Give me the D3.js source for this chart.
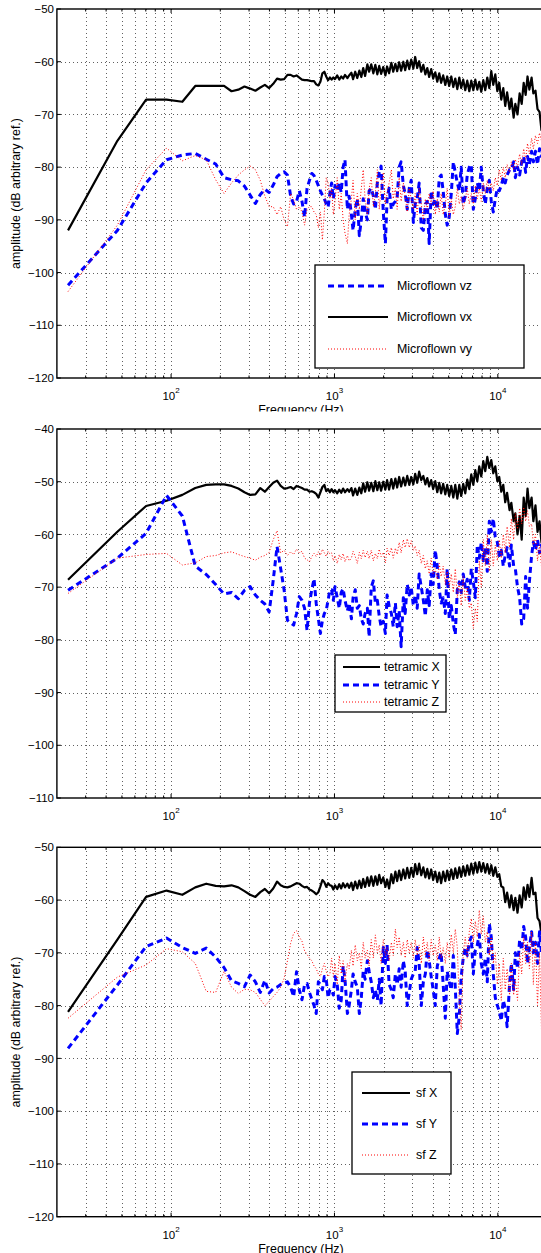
<!DOCTYPE html>
<html><head><meta charset="utf-8">
<script src="https://cdn.jsdelivr.net/npm/d3@7"></script>
<style>
html,body{margin:0;padding:0;background:#fff;}
svg{display:block;}
text{font-family:"Liberation Sans",Arial,Helvetica,sans-serif;fill:#000;}
</style></head><body>
<svg id="chart" width="541" height="1253"></svg>
<script>
// ---------- DATA ----------
const freqHz = [
23.4,46.9,70.3,93.8,117.2,140.6,164.1,187.5,210.9,234.4,
257.8,281.3,304.7,328.1,351.6,375,398.4,421.9,445.3,468.8,
492.2,515.6,539.1,562.5,585.9,609.4,632.8,656.3,679.7,703.1,
726.6,750,773.4,796.9,820.3,843.8,867.2,890.6,914.1,937.5,
960.9,984.4,1007.8,1040,1070,1100,1130,1160,1200,1230,
1270,1300,1340,1380,1420,1460,1500,1540,1590,1630,
1680,1730,1780,1830,1880,1930,1990,2050,2100,2160,
2230,2290,2360,2420,2490,2560,2640,2710,2790,2870,
2950,3040,3120,3210,3300,3400,3500,3600,3700,3800,
3910,4020,4140,4260,4380,4500,4630,4770,4900,5040,
5190,5340,5490,5650,5810,5970,6140,6320,6500,6690,
6880,7080,7280,7490,7700,7920,8150,8380,8620,8870,
9120,9380,9650,9930,10200,10500,10800,11100,11400,11800,
12100,12500,12800,13200,13600,14000,14400,14800,15200,15600,
16100,16500,17000,17500,18000,18500,19000,19600,20000];

// Panel 1 : Microflown
const microflownVz = [
-102.4,-92,-83,-78.6,-77.7,-77.4,-78.5,-79.4,-82,-82.4,
-82.6,-83.6,-85.3,-86.9,-85.2,-84.2,-84.8,-83.4,-81.8,-81.2,
-80.9,-81.5,-85.5,-87,-86.5,-84.5,-86.5,-89.5,-84,-82.5,
-81.2,-81.6,-82.5,-83.5,-84.5,-85.3,-86,-87,-87.6,-85,
-83,-86,-83.5,-84.5,-83,-84.8,-80,-78.6,-88,-85.5,
-89,-92,-88,-86,-93,-90,-86,-88.5,-90,-84.5,
-84,-85.5,-88,-83,-81,-79.8,-88.5,-94.5,-86,-84,
-88,-87,-86.5,-85.8,-80,-79,-83.5,-85,-88,-84,
-82.5,-90.5,-87,-86,-83,-91.5,-92,-87,-86.5,-94.5,
-84.5,-87,-86,-88,-82,-81.5,-84.5,-89,-91,-89.5,
-85,-79,-81,-83,-84.5,-80,-87,-85.5,-81.5,-80,
-79.5,-88,-86,-83,-84.5,-80,-84.5,-87,-84,-82.5,
-86.5,-88.5,-86,-84,-84.5,-83.5,-82,-83,-81.5,-80.5,
-80.5,-79,-82,-80,-81.5,-79,-78,-81,-78,-79.5,
-77,-79,-77,-79.5,-76.5,-78,-77,-78,-77];
const microflownVx = [
-92,-75,-67.2,-67.2,-67.6,-64.6,-64.6,-64.6,-64.6,-65.6,
-65.3,-64.7,-65.1,-65.5,-64.9,-64.4,-65,-64.2,-63.2,-63.4,
-63.3,-62.5,-62.5,-62.8,-62.6,-63,-63.4,-63.5,-63.5,-63.6,
-63.7,-63.7,-64.3,-64.5,-63.8,-62.2,-61.9,-62.8,-63.5,-63,
-63.4,-63,-63.3,-62.6,-63.4,-62.8,-63.2,-62.5,-63.1,-62.6,
-62.1,-63.3,-61.9,-63.1,-61.7,-62.9,-61.2,-62.7,-60.5,-61.9,
-60.5,-62.2,-60.6,-62.4,-60.8,-62.3,-61,-62.6,-60.9,-62.2,
-60.2,-61.9,-60.4,-61.8,-60.1,-61.7,-60,-61.6,-59.8,-61.4,
-59.6,-61.3,-59.1,-61.2,-59.9,-61.9,-60.6,-62.4,-61.2,-62.9,
-61.4,-63.2,-62,-63.8,-62.2,-64,-62.6,-64.4,-62.8,-64.6,
-62.8,-64.8,-63.2,-65.2,-63,-65,-63.4,-65.4,-63.6,-65.6,
-63.6,-65.4,-63.4,-65.3,-63.8,-65.7,-63.5,-65.4,-63,-65,
-61.8,-64.4,-62.4,-65.6,-64,-67.2,-65,-68.4,-65.8,-69,
-67,-70.6,-68,-70,-66,-68,-64,-66.3,-62.8,-65.3,
-63,-66,-65.5,-69,-69.5,-73,-72.5,-74.5,-73];
const microflownVy = [
-103.6,-91,-80.5,-76.4,-78.8,-77.8,-78.6,-82.4,-85,-83,
-81.5,-80.5,-79.8,-80.5,-82.5,-85.5,-87.5,-87.5,-89,-87.5,
-90,-91.3,-85,-86.2,-88,-87.5,-88.5,-91,-88,-87.5,
-87.5,-88.5,-89,-91.5,-88.5,-93.8,-88.5,-82,-83,-86,
-84,-89,-86.5,-82,-88,-85,-90,-92.5,-94.5,-89,
-86,-82.5,-90,-85,-88,-84,-80.5,-86,-89,-84,
-82,-87.5,-85,-80.5,-88,-84,-81,-87,-85,-83,
-80.5,-86,-84,-88,-82,-86.5,-83,-85.5,-88.5,-84,
-86,-88,-85,-89,-84,-87,-90,-86,-88,-85,
-87,-84.5,-89,-86,-88.5,-85,-89,-87,-84,-89.5,
-86,-89,-87.5,-84,-87,-85.5,-88,-86,-84,-87,
-85,-87,-83.5,-86,-84,-86.5,-83,-85,-82.5,-84.5,
-83,-84.5,-82,-83.5,-80.5,-82.5,-80,-82,-79.5,-81,
-79,-80.5,-78.5,-80,-77.5,-79.5,-76.5,-78.5,-75.5,-77.5,
-74.5,-76.5,-74,-75.5,-73.5,-75,-74,-75,-74];

// Panel 2 : tetramic
const tetramicX = [
-68.6,-59.5,-54.6,-53.6,-52.5,-51.2,-50.6,-50.5,-50.5,-50.8,
-51.3,-52,-52.5,-52.4,-51.2,-51.9,-51,-50.2,-49.8,-50.8,
-51.3,-51.2,-51,-51.4,-50.8,-51,-51.2,-51.5,-51.5,-51.9,
-51.8,-52,-52.3,-53,-52,-51,-50.6,-51.8,-51.4,-52,
-51.4,-52,-51.6,-52.2,-51.5,-52.1,-51.3,-52,-51.4,-51.9,
-51.2,-52.6,-51.3,-52.5,-51.1,-52.2,-50.3,-51.9,-50.1,-51.7,
-50.2,-51.8,-49.9,-51.6,-50.1,-51.7,-50,-51.5,-49.7,-51.5,
-49.5,-51.3,-49.4,-51.1,-49.1,-50.9,-49.2,-50.7,-48.9,-50.6,
-49.1,-50.5,-48.5,-50.2,-48.1,-49.7,-48.9,-50.5,-49.3,-50.9,
-49.7,-51.4,-49.9,-52,-50.2,-52.2,-50.4,-52.4,-50.6,-52.7,
-50.8,-53,-50.6,-53.2,-50.6,-52.7,-50.4,-52.2,-49.6,-51.4,
-48.6,-50.6,-47.8,-49.9,-47.1,-49,-46.1,-48,-45.3,-47.4,
-45.9,-48.4,-47.1,-49.9,-49.1,-51.9,-50.6,-53.9,-52.1,-55.4,
-54,-57.5,-56,-60,-56.5,-61,-53,-56.5,-51.3,-55,
-53,-57.5,-54.5,-59.5,-57.5,-61.5,-59.5,-61.5,-60];
const tetramicY = [
-70.6,-64.5,-59.8,-52.6,-56.5,-66,-67.6,-69.5,-71.3,-71,
-72.2,-70.6,-69.9,-71.5,-72.5,-73.2,-74.7,-68.7,-62.3,-66.5,
-70.6,-76.3,-76.8,-77.2,-75,-71.8,-72.5,-74,-78.2,-73,
-70.5,-68.4,-73.1,-76,-78.8,-76.3,-75,-74.4,-72.5,-70.5,
-70.5,-72.5,-69.9,-72,-74,-71,-70.3,-72.5,-74.5,-73,
-76,-72,-70.5,-74,-73.5,-76,-77,-75,-74,-79.4,
-70,-68.8,-73,-72.5,-75.5,-77.5,-76.5,-78.8,-71.5,-73.5,
-75,-77.5,-73,-77.5,-74.5,-81.3,-72,-75,-69.5,-71.5,
-70,-73.5,-71.5,-74,-67.5,-70,-72.5,-75.5,-70.5,-73.5,
-67.5,-69.5,-63,-66,-70.5,-73,-72,-75,-66.5,-76,
-73.5,-77,-79,-70.5,-69,-71,-67.5,-70,-68.5,-72.5,
-66.5,-69,-72,-62,-64.5,-61.5,-65,-62.5,-67,-57.5,
-59.5,-57,-60.5,-61.5,-64,-63,-66,-64,-62.5,-66,
-62,-66,-66.5,-70,-72,-77,-76,-68,-74,-69,
-64,-61.5,-63,-61,-63.5,-62,-64,-62,-63];
const tetramicZ = [
-71.2,-64.5,-63.8,-63.6,-65.8,-65.4,-64.2,-64,-63.5,-63.3,
-63.8,-64.2,-64.5,-64.9,-64.3,-64,-63.4,-61,-59.3,-63.5,
-63,-64,-63.3,-63.8,-62.8,-63.5,-63.2,-64.5,-64.8,-65.2,
-64.2,-63.6,-64.2,-63.3,-64,-62.8,-63.5,-64.2,-63.2,-63.7,
-63.5,-65,-64,-65.5,-63.8,-64.8,-63.6,-65.2,-64,-65,
-64.5,-63.2,-64.2,-65.5,-63.4,-64.6,-63,-64.4,-63.2,-64.6,
-63,-65,-63.6,-64.6,-62.8,-64.2,-63.4,-65.4,-62.6,-64,
-62.5,-64.5,-62.6,-63.8,-61.5,-63.5,-61,-62.5,-60.8,-62.5,
-61.2,-63,-62.2,-64,-63,-65.5,-64,-66.5,-65,-67.5,
-64.5,-67.5,-66.5,-68.5,-65.5,-68,-66,-69.5,-67,-70,
-67.5,-71,-66.5,-72,-69,-73.5,-68,-72.5,-70,-74,
-73,-77.8,-74,-76.5,-65,-70,-61,-66,-60,-67,
-61,-66,-62,-65,-61,-64.5,-60,-63.5,-58.5,-62.5,
-57,-61,-56,-59,-55,-58,-54.8,-57.5,-55.5,-58.5,
-58,-62,-60,-65,-62,-66,-63,-65,-64];

// Panel 3 : sf
const sfX = [
-81.2,-67.5,-59.4,-58.2,-59,-57.6,-56.9,-57.3,-57.4,-57.2,
-57.6,-58.3,-59,-59.4,-58.5,-57.9,-58.7,-57.8,-56.5,-57.2,
-57.5,-57.6,-57.4,-57.1,-56.8,-56.9,-57.3,-57.6,-57.5,-58,
-58.2,-58.5,-58.9,-58.5,-57.4,-56.2,-56.6,-57.5,-56.8,-57.2,
-57.3,-58,-57.2,-57.9,-57,-57.8,-56.8,-57.6,-56.9,-57.7,
-56.7,-58.1,-56.5,-57.8,-56.3,-57.7,-56,-57.5,-55.7,-57.3,
-55.5,-57.3,-55.5,-57.1,-55.2,-56.8,-55.7,-57.5,-56.1,-57.8,
-55.1,-56.8,-54.6,-56.4,-54.4,-56.2,-54.2,-55.9,-53.9,-55.8,
-53.9,-55.6,-53.2,-55.1,-53.1,-55.3,-53.8,-55.7,-54.1,-55.9,
-54.2,-56.2,-54.6,-56.6,-54.8,-56.8,-54.6,-56.4,-54.4,-56.2,
-54.2,-56,-54,-55.8,-53.8,-55.6,-53.6,-55.4,-53.4,-55.2,
-53.1,-55,-52.9,-54.8,-52.8,-54.6,-53,-54.8,-53.2,-55,
-53.4,-55.4,-53.8,-55.6,-55.1,-57.4,-57.6,-60.4,-58.6,-61.4,
-59.1,-61.9,-59.6,-62.4,-59.1,-61.4,-57.6,-59.9,-57.1,-59.4,
-55.8,-58.9,-58.6,-63.4,-64,-66.5,-65,-66,-65];
const sfY = [
-88.1,-76.1,-68.8,-67.2,-69,-70.1,-69.1,-70.8,-72.8,-75.3,
-75.8,-76.4,-74.2,-75.5,-77.5,-75.2,-77.6,-76.8,-76.5,-76,
-75.8,-75.5,-76.5,-78.3,-73.6,-77,-78.9,-76,-75.8,-77.5,
-78.8,-80,-81.5,-75.5,-76,-77,-74.5,-75,-78.5,-77,
-77,-78,-74.5,-76,-80.5,-79,-72.5,-75,-81.5,-80,
-77,-74,-75.5,-76.5,-81.5,-78.5,-73.5,-75,-71.5,-73.5,
-75.5,-78.5,-77,-79,-75,-80,-69,-72,-68.5,-76,
-77,-78.5,-74,-76,-73,-76.5,-71.5,-73.5,-80,-77.5,
-75,-74,-73.5,-69,-72,-80,-75.5,-74,-69.5,-71.5,
-74.5,-77,-80,-72.5,-71,-70,-76,-82.4,-73.5,-75.5,
-77,-70.5,-76.5,-85.3,-82,-74.5,-71,-69,-70.5,-68,
-67,-74,-69.5,-68.5,-66.5,-72,-74,-71,-75.5,-64.5,
-67,-74,-78.5,-80,-81,-82.9,-79,-80.5,-84,-76,
-72,-77,-70,-73,-67.5,-69.5,-65,-67,-72,-69,
-66,-70,-68,-72,-66,-70,-68,-71,-69];
const sfZ = [
-82.4,-74.6,-72.3,-69.2,-69.8,-72,-77.3,-77.5,-73.5,-76.5,
-77.7,-76.9,-77,-77.5,-78.8,-80,-79.2,-78.3,-77.5,-76.5,
-74.8,-71.5,-68.2,-66.3,-65.8,-67,-67.8,-69.6,-70.3,-71,
-71.5,-72.5,-73,-74,-74.5,-73,-72,-73.5,-74.5,-74,
-71,-74.5,-72,-76,-70.5,-74,-71.5,-75.5,-72,-73,
-69.5,-72.5,-68.5,-71.5,-70,-73,-68,-71,-69.5,-72.5,
-67.5,-71,-66.6,-70,-68.5,-72,-67.5,-70.5,-69,-71.5,
-68,-70.5,-65.5,-69,-67,-70.5,-68,-71,-67.5,-70,
-68,-71,-67.5,-70.5,-68.5,-72,-67,-70.5,-68,-71.5,
-67.5,-70.5,-68.5,-71.5,-67,-71,-69,-72,-68,-71,
-66.5,-70,-65.5,-69,-79.5,-84.5,-70,-67,-71,-66,
-63.5,-68,-64,-67,-61.9,-66.5,-63,-68,-66,-70.5,
-67,-72,-70,-76,-72,-79,-71,-77,-73,-78,
-72,-78,-75,-79,-70,-74,-67,-72,-68,-73,
-66,-76,-68,-80,-70,-84.5,-72,-80,-75];

const yTicksA = [-120,-110,-100,-90,-80,-70,-60,-50];
const yTicksB = [-110,-100,-90,-80,-70,-60,-50,-40];
const xTickDecades = [100, 1000, 10000];
const xTickExponents = ["2", "3", "4"];
const yLabelText = "amplitude (dB arbitrary ref.)";
const xLabelText = "Frequency (Hz)";

// ---------- STYLES / LAYOUT ----------
const styles = {
  black: {stroke: "#000000", width: 2.2, dash: null},
  blue:  {stroke: "#0000ff", width: 3, dash: "6,4"},
  red:   {stroke: "#ff0000", width: 1, dash: "1,2"}
};

const panels = [
  {top: 9, bottom: 378, yDomain: [-120, -50], yTicks: yTicksA, ylabel: true, xlabelClip: 411.5,
   series: [
     {name: "Microflown vz", values: microflownVz, style: "blue"},
     {name: "Microflown vx", values: microflownVx, style: "black"},
     {name: "Microflown vy", values: microflownVy, style: "red"}],
   legend: {x: 315, y: 265, w: 209, h: 103, rows: [286, 317, 349], lx1: 328, lx2: 388, tx: 397}},
  {top: 429, bottom: 798, yDomain: [-110, -40], yTicks: yTicksB, ylabel: false, xlabelClip: null,
   series: [
     {name: "tetramic X", values: tetramicX, style: "black"},
     {name: "tetramic Y", values: tetramicY, style: "blue"},
     {name: "tetramic Z", values: tetramicZ, style: "red"}],
   legend: {x: 335, y: 655, w: 111, h: 57, rows: [667, 685, 702], lx1: 343, lx2: 380, tx: 384}},
  {top: 847.3, bottom: 1216.7, yDomain: [-120, -50], yTicks: yTicksA, ylabel: true, xlabelClip: 1253,
   series: [
     {name: "sf X", values: sfX, style: "black"},
     {name: "sf Y", values: sfY, style: "blue"},
     {name: "sf Z", values: sfZ, style: "red"}],
   legend: {x: 352, y: 1072, w: 99, h: 102, rows: [1093, 1124, 1155], lx1: 362, lx2: 410, tx: 416}}
];

const svg = d3.select("#chart");
const X0 = 56.9, X1 = 547;
const x = d3.scaleLog().domain([20, 20000]).range([X0, X1]);
const gridFreqs = x.ticks().filter(f => f > 20 && f < 20000);

panels.forEach((p, pi) => {
  const y = d3.scaleLinear().domain(p.yDomain).range([p.bottom, p.top]);
  const g = svg.append("g");
  const clipId = "clip" + pi;
  svg.append("clipPath").attr("id", clipId)
    .append("rect").attr("x", X0).attr("y", p.top).attr("width", X1 - X0).attr("height", p.bottom - p.top);

  // grid
  const grid = g.append("g").attr("stroke", "#3a3a3a").attr("stroke-width", 0.8)
    .attr("stroke-dasharray", "1,3").attr("shape-rendering", "crispEdges");
  grid.selectAll("line.v").data(gridFreqs).join("line").attr("class", "v")
    .attr("x1", d => Math.round(x(d)) + 0.5).attr("x2", d => Math.round(x(d)) + 0.5)
    .attr("y1", p.top).attr("y2", p.bottom);
  grid.selectAll("line.h").data(p.yTicks.slice(1, -1)).join("line").attr("class", "h")
    .attr("x1", X0).attr("x2", X1)
    .attr("y1", d => Math.round(y(d)) + 0.5).attr("y2", d => Math.round(y(d)) + 0.5);

  // ticks (inward)
  const ticks = g.append("g").attr("stroke", "#000").attr("stroke-width", 1);
  ticks.selectAll("line.yt").data(p.yTicks).join("line")
    .attr("x1", X0).attr("x2", X0 + 4).attr("y1", d => y(d)).attr("y2", d => y(d));
  gridFreqs.forEach(f => {
    const len = xTickDecades.includes(f) ? 4 : 2.5;
    ticks.append("line").attr("x1", x(f)).attr("x2", x(f)).attr("y1", p.bottom).attr("y2", p.bottom - len);
    ticks.append("line").attr("x1", x(f)).attr("x2", x(f)).attr("y1", p.top).attr("y2", p.top + len);
  });

  // data lines
  const line = d3.line().x(d => x(d.f)).y(d => y(d.v));
  const lines = g.append("g").attr("clip-path", `url(#${clipId})`);
  p.series.forEach(s => {
    const st = styles[s.style];
    const n = Math.min(freqHz.length, s.values.length);
    const pts = d3.range(n).map(i => ({f: freqHz[i], v: s.values[i]}));
    lines.append("path").datum(pts).attr("d", line)
      .attr("fill", "none").attr("stroke", st.stroke).attr("stroke-width", st.width)
      .attr("stroke-linejoin", "round")
      .attr("stroke-dasharray", st.dash);
  });

  // axes box
  g.append("rect").attr("x", X0).attr("y", p.top).attr("width", X1 - X0).attr("height", p.bottom - p.top)
    .attr("fill", "none").attr("stroke", "#000").attr("stroke-width", 1.4);

  // y tick labels
  g.selectAll("text.yl").data(p.yTicks).join("text")
    .attr("x", 54).attr("y", d => y(d)).attr("dy", "0.36em")
    .attr("text-anchor", "end").attr("font-size", 11.5)
    .text(d => (d < 0 ? "\u2212" : "") + Math.abs(d));

  // x tick labels
  xTickDecades.forEach((f, i) => {
    const t = g.append("text").attr("x", x(f)).attr("y", p.bottom + 22)
      .attr("text-anchor", "middle").attr("font-size", 11.5);
    t.append("tspan").text("10");
    t.append("tspan").attr("dy", -7).attr("font-size", 8).text(xTickExponents[i]);
  });

  // x label (partly cut off at the lower edge, as in the reference)
  if (p.xlabelClip) {
    const cid = "xlclip" + pi;
    svg.append("clipPath").attr("id", cid).append("rect")
      .attr("x", 0).attr("y", p.bottom + 20).attr("width", 541).attr("height", p.xlabelClip - p.bottom - 20);
    g.append("text").attr("clip-path", `url(#${cid})`)
      .attr("x", 301).attr("y", p.bottom + 36).attr("text-anchor", "middle").attr("font-size", 12.4)
      .text(xLabelText);
  }

  // y label
  if (p.ylabel) {
    const cy = (p.top + p.bottom) / 2;
    g.append("text").attr("transform", `translate(16,${cy}) rotate(-90)`)
      .attr("dy", "0.35em").attr("text-anchor", "middle").attr("font-size", 12.4)
      .text(yLabelText);
  }

  // legend
  const L = p.legend;
  const lg = g.append("g");
  lg.append("rect").attr("x", L.x).attr("y", L.y).attr("width", L.w).attr("height", L.h)
    .attr("fill", "#fff").attr("stroke", "#000").attr("stroke-width", 1.3);
  p.series.forEach((s, i) => {
    const st = styles[s.style];
    lg.append("line").attr("x1", L.lx1).attr("x2", L.lx2).attr("y1", L.rows[i]).attr("y2", L.rows[i])
      .attr("stroke", st.stroke).attr("stroke-width", st.width).attr("stroke-dasharray", st.dash);
    lg.append("text").attr("x", L.tx).attr("y", L.rows[i]).attr("dy", "0.36em")
      .attr("font-size", 12.4).text(s.name);
  });
});
</script>
</body></html>
